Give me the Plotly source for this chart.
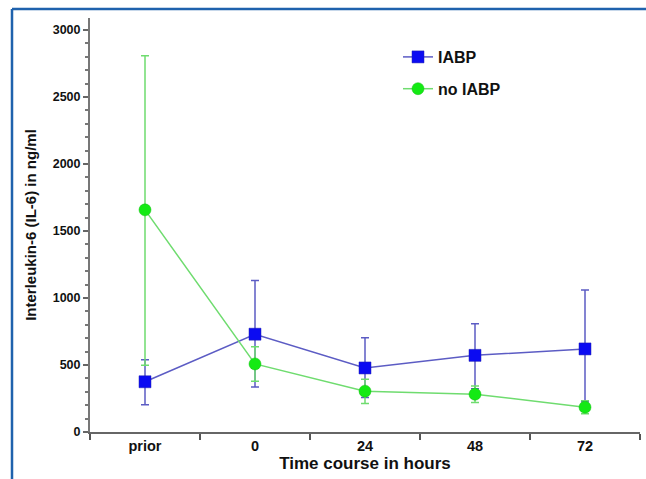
import plotly.graph_objects as go

categories = ["prior", "0", "24", "48", "72"]

iabp_mean = [375, 730, 478, 572, 620]
iabp_err_plus = [165, 400, 226, 236, 440]
iabp_err_minus = [172, 395, 220, 250, 395]

no_iabp_mean = [1658, 508, 305, 282, 185]
no_iabp_err_plus = [1150, 128, 88, 62, 48]
no_iabp_err_minus = [1160, 130, 92, 62, 48]

W, H = 646, 479
ML, MR, MT, MB = 90, 6, 18, 47

FONT = "Liberation Sans, Arial, sans-serif"

fig = go.Figure()
fig.add_trace(go.Scatter(
    x=categories, y=iabp_mean, name="IABP", mode="lines+markers",
    legendgroup="a",
    line=dict(color="#5c5cc4", width=1.5),
    marker=dict(symbol="square", size=12, color="#0b0bf2",
                line=dict(color="#2020b0", width=0.5)),
    error_y=dict(type="data", symmetric=False, array=iabp_err_plus,
                 arrayminus=iabp_err_minus, color="#5c5cc4",
                 thickness=1.5, width=4),
))
fig.add_trace(go.Scatter(
    x=categories, y=no_iabp_mean, name="no IABP", mode="lines+markers",
    legendgroup="b",
    line=dict(color="#6fdc6f", width=1.5),
    marker=dict(symbol="circle", size=12, color="#14ea14",
                line=dict(color="#10c010", width=0.5)),
    error_y=dict(type="data", symmetric=False, array=no_iabp_err_plus,
                 arrayminus=no_iabp_err_minus, color="#6fdc6f",
                 thickness=1.5, width=4),
))

pw = W - ML - MR
ph = H - MT - MB
def px_to_paper_x(px):
    return (px - ML) / pw
def px_to_paper_y(py):
    return (H - MB - py) / ph

border = "#1f62ad"
fig.add_shape(type="line", xref="paper", yref="paper",
              x0=px_to_paper_x(12), x1=px_to_paper_x(W + 2),
              y0=px_to_paper_y(9), y1=px_to_paper_y(9),
              line=dict(color=border, width=2.5))
fig.add_shape(type="line", xref="paper", yref="paper",
              x0=px_to_paper_x(12), x1=px_to_paper_x(12),
              y0=px_to_paper_y(9), y1=px_to_paper_y(H + 2),
              line=dict(color=border, width=2.5))

fig.update_layout(
    width=W, height=H,
    margin=dict(l=ML, r=MR, t=MT, b=MB, pad=0),
    paper_bgcolor="white", plot_bgcolor="white",
    font=dict(family=FONT, color="#111"),
    legend=dict(x=px_to_paper_x(398), y=px_to_paper_y(40),
                xanchor="left", yanchor="top",
                bgcolor="rgba(0,0,0,0)", tracegroupgap=8,
                font=dict(size=16, family=FONT, color="#111", weight="bold")),
    xaxis=dict(
        type="category", range=[-0.5, 4.5],
        showline=True, linecolor="#666", linewidth=1.5,
        ticks="outside", tickson="boundaries", ticklen=6, tickcolor="#555",
        tickwidth=1.5,
        showgrid=False, zeroline=False,
        tickfont=dict(size=14.5, family=FONT, color="#111", weight="bold"),
        title=dict(text="Time course in hours", standoff=3,
                   font=dict(size=17, family=FONT, color="#111", weight="bold")),
    ),
    yaxis=dict(
        range=[0, 3090],
        tickvals=[0, 500, 1000, 1500, 2000, 2500, 3000],
        showline=True, linecolor="#777", linewidth=2,
        ticks="outside", ticklen=5, tickcolor="#666", tickwidth=1.5,
        minor=dict(dtick=100, ticks="outside", ticklen=3, tickcolor="#777",
                   tickwidth=1.5, showgrid=False),
        showgrid=False, zeroline=False,
        tickfont=dict(size=12.5, family=FONT, color="#111", weight="bold"),
        title=dict(text="Interleukin-6 (IL-6) in ng/ml", standoff=12,
                   font=dict(size=15, family=FONT, color="#111", weight="bold")),
    ),
)

fig.write_html("out.html")
